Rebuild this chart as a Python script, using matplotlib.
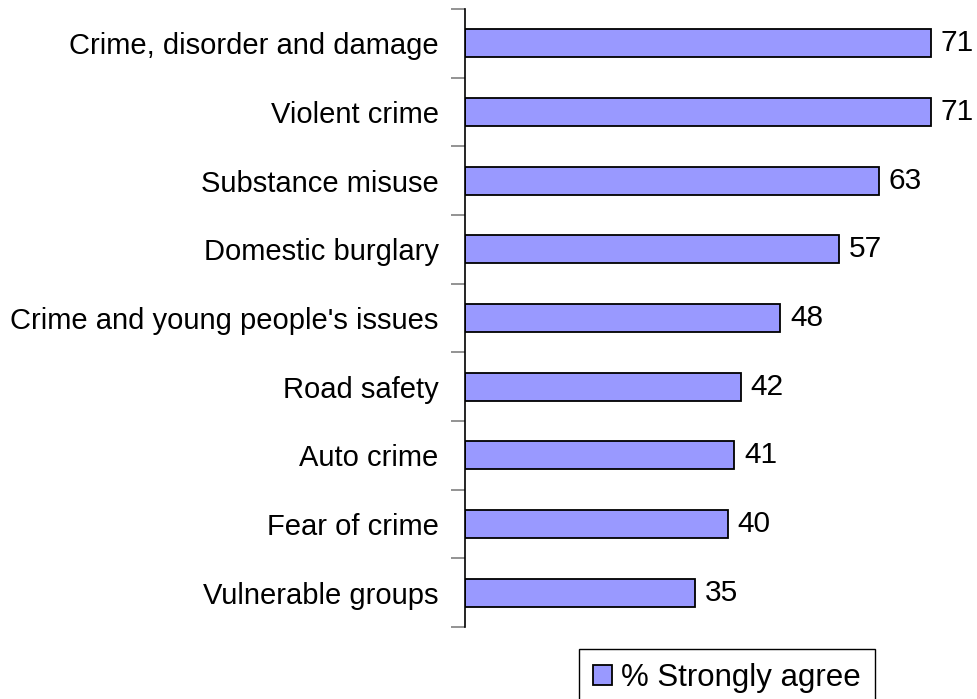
import matplotlib
matplotlib.use("Agg")
import matplotlib.pyplot as plt
import numpy as np

categories = [
    "Crime, disorder and damage",
    "Violent crime",
    "Substance misuse",
    "Domestic burglary",
    "Crime and young people's issues",
    "Road safety",
    "Auto crime",
    "Fear of crime",
    "Vulnerable groups",
]
strongly_agree = [71, 71, 63, 57, 48, 42, 41, 40, 35]

plt.rcParams["font.family"] = ["Liberation Sans", "DejaVu Sans"]

fig = plt.figure(figsize=(9.78, 6.99), dpi=100)
ax = fig.add_axes([465 / 978, 1 - 627 / 699, 512 / 978, 618 / 699])

n = len(categories)
pos = np.arange(n)
bars = ax.barh(pos, strongly_agree, height=0.41, color="#9999FF",
               edgecolor="black", linewidth=1.3, label="% Strongly agree")

for y, v in zip(pos, strongly_agree):
    ax.text(v + 1.5, y, str(v), va="center", ha="left", fontsize=21.5)

ax.set_ylim(n - 0.5, -0.5)
ax.set_xlim(0, 78)

ax.set_yticks(pos)
ax.set_yticklabels(categories, fontsize=21)
ax.tick_params(axis="y", which="major", length=0, pad=19)
# short grey ticks between the categories
ax.set_yticks(np.arange(n + 1) - 0.5, minor=True)
ax.tick_params(axis="y", which="minor", length=10, width=1.2, color="#808080")

ax.set_xticks([])
for side in ("top", "right", "bottom"):
    ax.spines[side].set_visible(False)
ax.spines["left"].set_linewidth(1.2)

leg = fig.legend(handles=[bars], loc="upper left",
                 bbox_to_anchor=(579 / 978, 1 - 649 / 699), fontsize=22.5,
                 fancybox=False, framealpha=1, edgecolor="black",
                 handlelength=0.6, handleheight=0.6, handletextpad=0.3,
                 borderpad=0.45, borderaxespad=0)
leg.get_frame().set_linewidth(1.0)

fig.savefig("out.png", dpi=100)
